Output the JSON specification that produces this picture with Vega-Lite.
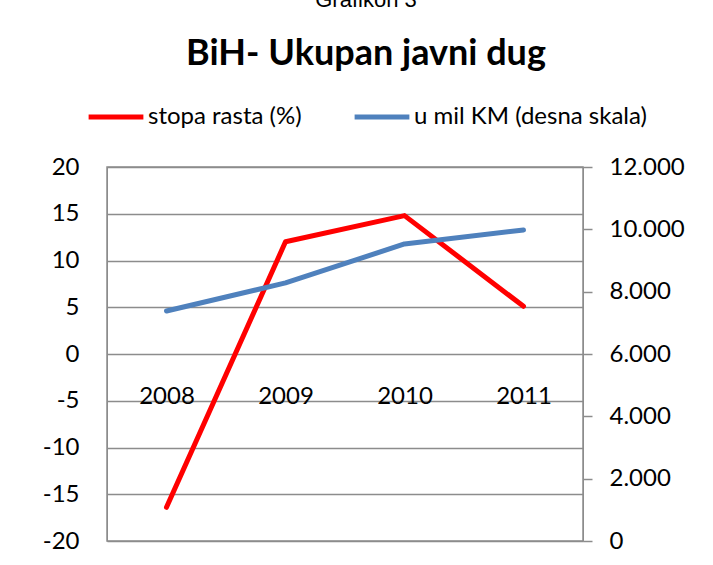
{
  "$schema": "https://vega.github.io/schema/vega-lite/v6.json",
  "width": 476,
  "height": 374,
  "autosize": "none",
  "padding": {"left": 107, "top": 167, "right": 130, "bottom": 24},
  "background": "white",
  "config": {
    "font": "Lato",
    "view": {"stroke": "#8c8c8c", "strokeWidth": 1.5},
    "locale": {"number": {"decimal": ",", "thousands": ".", "grouping": [3], "currency": ["", ""], "minus": "-"}}
  },
  "title": {
    "text": "Grafikon 3",
    "subtitle": "BiH- Ukupan javni dug",
    "font": "Liberation Sans",
    "fontSize": 22,
    "fontWeight": "normal",
    "color": "black",
    "subtitleFont": "Lato",
    "subtitleFontSize": 36,
    "subtitleFontWeight": "bold",
    "subtitleColor": "black",
    "subtitlePadding": 25,
    "anchor": "middle",
    "dx": 21,
    "offset": 14
  },
  "data": {
    "values": [
      {"year": "2008", "stopa": -16.4, "dug": 7380},
      {"year": "2009", "stopa": 12.0, "dug": 8280},
      {"year": "2010", "stopa": 14.8, "dug": 9530},
      {"year": "2011", "stopa": 5.1, "dug": 9980}
    ]
  },
  "encoding": {
    "x": {
      "field": "year",
      "type": "ordinal",
      "scale": {"type": "point", "padding": 0.5},
      "axis": {
        "orient": "bottom",
        "offset": -187,
        "domain": false,
        "ticks": false,
        "title": null,
        "labelAngle": 0,
        "labelFontSize": 24,
        "labelColor": "black",
        "labelPadding": 30
      }
    }
  },
  "layer": [
    {
      "mark": {"type": "line", "strokeWidth": 5, "strokeCap": "round", "strokeJoin": "round"},
      "encoding": {
        "y": {
          "field": "stopa",
          "type": "quantitative",
          "scale": {"domain": [-20, 20], "nice": false, "zero": false},
          "axis": {
            "orient": "left",
            "values": [-20, -15, -10, -5, 0, 5, 10, 15, 20],
            "title": null,
            "grid": true,
            "gridColor": "#8c8c8c",
            "gridWidth": 1.5,
            "gridOpacity": 1,
            "domain": true,
            "domainColor": "#8c8c8c",
            "ticks": false,
            "labelFontSize": 24,
            "labelColor": "black",
            "labelPadding": 28
          }
        },
        "color": {
          "datum": "stopa rasta (%)",
          "scale": {"domain": ["stopa rasta (%)", "u mil KM (desna skala)"], "range": ["#ff0000", "#4f81bd"]},
          "legend": {
            "orient": "none",
            "direction": "horizontal",
            "legendX": -21,
            "legendY": -80,
            "title": null,
            "padding": 0,
            "symbolType": "stroke",
            "symbolStrokeWidth": 5,
            "symbolSize": 3000,
            "labelFontSize": 24,
            "labelLimit": 400,
            "labelColor": "black",
            "labelOffset": 2,
            "columnPadding": 42
          }
        }
      }
    },
    {
      "mark": {"type": "line", "strokeWidth": 5, "strokeCap": "round", "strokeJoin": "round"},
      "encoding": {
        "y": {
          "field": "dug",
          "type": "quantitative",
          "scale": {"domain": [0, 12000], "nice": false},
          "axis": {
            "orient": "right",
            "values": [0, 2000, 4000, 6000, 8000, 10000, 12000],
            "format": ",d",
            "title": null,
            "grid": false,
            "domain": true,
            "domainColor": "#8c8c8c",
            "ticks": true,
            "tickSize": 9,
            "tickColor": "#8c8c8c",
            "tickWidth": 1.5,
            "labelFontSize": 24,
            "labelColor": "black",
            "labelPadding": 17
          }
        },
        "color": {"datum": "u mil KM (desna skala)"}
      }
    }
  ],
  "resolve": {"scale": {"y": "independent"}}
}
